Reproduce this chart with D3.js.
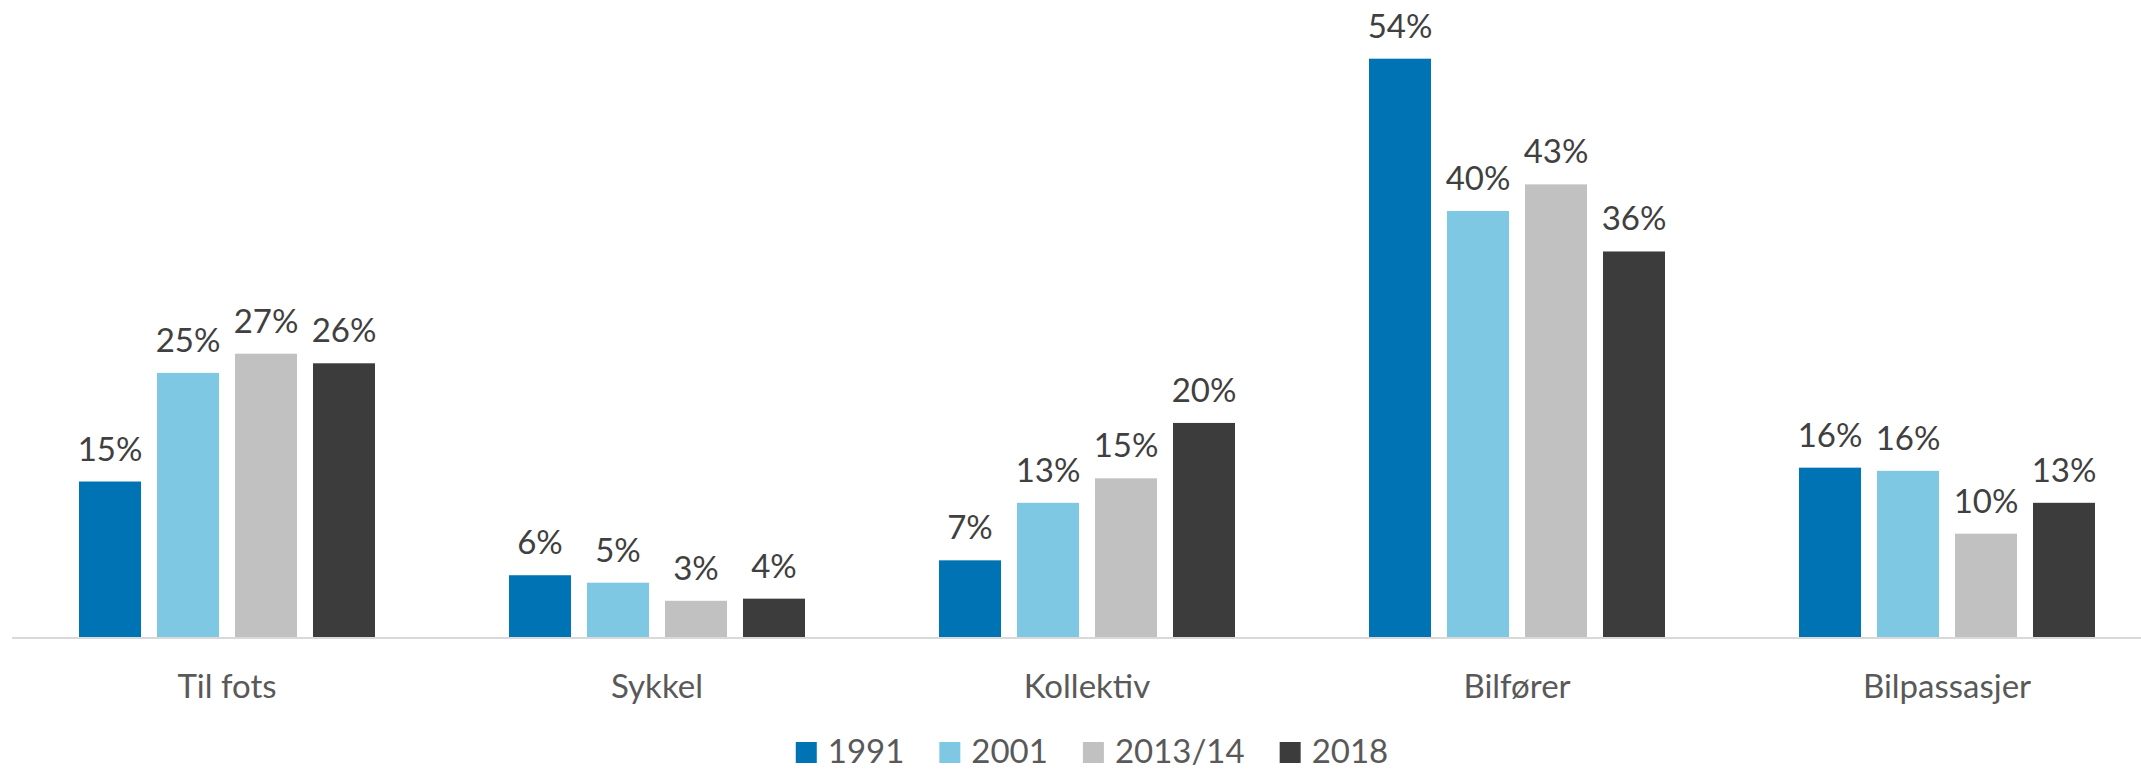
<!DOCTYPE html>
<html>
<head>
<meta charset="utf-8">
<script src="https://cdn.jsdelivr.net/npm/d3@7"></script>
<style>
  body { margin: 0; background: #fff; }
  text { font-family: Lato, "Open Sans", sans-serif; }
</style>
</head>
<body>
<script>
var categories = ["Til fots", "Sykkel", "Kollektiv", "Bilfører", "Bilpassasjer"];
var years = ["1991", "2001", "2013/14", "2018"];

// share of trips per mode (percent)
var v1991   = [14.6, 5.8, 7.2, 54.3, 15.9];
var v2001   = [24.8, 5.1, 12.6, 40.0, 15.6];
var v2013   = [26.6, 3.4, 14.9, 42.5, 9.7];
var v2018   = [25.7, 3.6, 20.1, 36.2, 12.6];
var series  = [v1991, v2001, v2013, v2018];

var colors = ["#0073b4", "#7ec8e4", "#c0c1c0", "#3b3c3b"];

var width = 2141, height = 771;

var svg = d3.select("body").append("svg")
                           .attr("width", width)
                           .attr("height", height);

var x0 = d3.scaleBand().domain(categories).range([12, 2162]);
var x1 = d3.scaleBand().domain(years).range([67, 363]).paddingInner(0.205);
var y  = d3.scaleLinear().domain([0, 60]).range([637, -2]);

var rows = [];
categories.forEach(function(c, i) {
    years.forEach(function(yr, j) {
        rows.push({cat: c, year: yr, value: series[j][i], k: j});
    });
});

// axis line
svg.append("line")
   .attr("x1", 12).attr("x2", width)
   .attr("y1", y(0) + 1).attr("y2", y(0) + 1)
   .attr("stroke", "#d9d9d9")
   .attr("stroke-width", 2);

svg.selectAll("rect.bar")
   .data(rows)
   .enter()
   .append("rect")
   .attr("class", "bar")
   .attr("x", function(d) { return x0(d.cat) + x1(d.year); })
   .attr("y", function(d) { return y(d.value); })
   .attr("width", x1.bandwidth())
   .attr("height", function(d) { return y(0) - y(d.value); })
   .style("fill", function(d) { return colors[d.k]; });

svg.selectAll("text.val")
   .data(rows)
   .enter()
   .append("text")
   .attr("class", "val")
   .attr("x", function(d) { return x0(d.cat) + x1(d.year) + x1.bandwidth() / 2; })
   .attr("y", function(d) { return y(d.value) - 21; })
   .attr("text-anchor", "middle")
   .attr("font-size", 33)
   .attr("fill", "#404040")
   .text(function(d) { return Math.round(d.value) + "%"; });

svg.selectAll("text.cat")
   .data(categories)
   .enter()
   .append("text")
   .attr("class", "cat")
   .attr("x", function(d) { return x0(d) + x0.bandwidth() / 2; })
   .attr("y", 698)
   .attr("text-anchor", "middle")
   .attr("font-size", 33)
   .attr("fill", "#595959")
   .text(function(d) { return d; });

// legend
var legend = svg.append("g");
var lx = 0;
years.forEach(function(yr, i) {
    var item = legend.append("g").attr("transform", "translate(" + lx + ",0)");
    item.append("rect")
        .attr("x", 0).attr("y", 742)
        .attr("width", 21).attr("height", 21)
        .style("fill", colors[i]);
    var t = item.append("text")
        .attr("x", 32).attr("y", 763)
        .attr("font-size", 33)
        .attr("fill", "#595959")
        .text(yr);
    lx += 32 + t.node().getComputedTextLength() + 35;
});
var legendW = lx - 35;
legend.attr("transform", "translate(" + (1092 - legendW / 2) + ",0)");
</script>
</body>
</html>
